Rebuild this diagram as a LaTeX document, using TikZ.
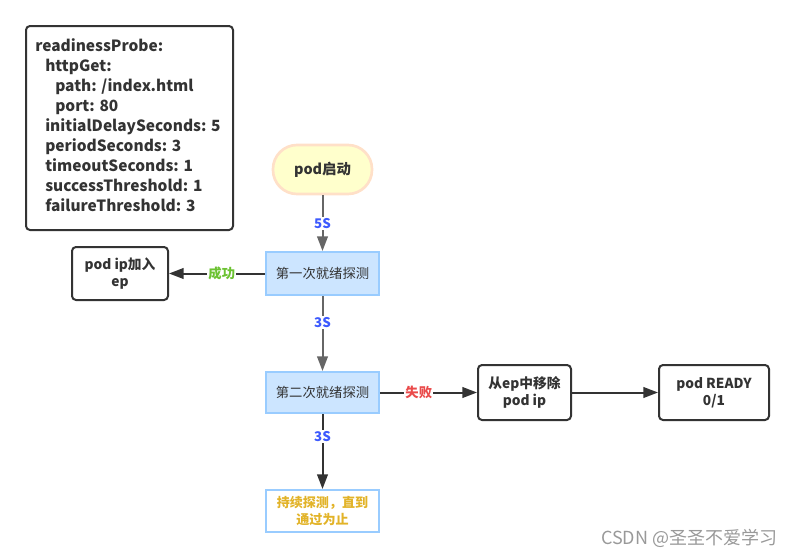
\documentclass[tikz,border=0pt]{standalone}
\usepackage{fontspec}
\setmainfont{Noto Sans CJK SC}
\usetikzlibrary{arrows.meta, calc}
\definecolor{probefill}{HTML}{CCE5FF}
\definecolor{probeline}{HTML}{99CCFF}
\definecolor{startfill}{HTML}{FFFFCC}
\definecolor{startline}{HTML}{FFE0C8}
\definecolor{darktext}{HTML}{333333}
\definecolor{waitblue}{HTML}{3D5AFE}
\definecolor{okgreen}{HTML}{6CC232}
\definecolor{failred}{HTML}{EA4A4A}
\definecolor{goldtext}{HTML}{E2B328}

\begin{document}
\begin{tikzpicture}[x=0.75pt, y=-0.75pt,
	box/.style={draw=darktext, line width=1.5pt, rounded corners=3pt, align=center,
		text=darktext, font=\bfseries\fontsize{10.3}{12.5}\selectfont},
	probe/.style={draw=probeline, fill=probefill, line width=1.5pt, align=center,
		text=darktext, font=\fontsize{10}{12}\selectfont},
	flow/.style={line width=1.5pt, -{Triangle[length=11pt, width=8pt]}},
	lbl/.style={fill=white, inner sep=1pt, font=\bfseries\fontsize{10}{11}\selectfont}]
	\useasboundingbox (0,0) rectangle (794,557);
	% yaml box
	\node [box, minimum width=207*0.75pt, minimum height=204*0.75pt, anchor=north west] (yaml) at (25,25) {};
	\node [anchor=north west, align=left, inner sep=0pt, text=darktext,
		font=\bfseries\fontsize{11.6}{15}\selectfont] (yamltext) at (35,38.5)
		{readinessProbe:\\
		\hspace*{7.5pt}httpGet:\\
		\hspace*{15pt}path: /index.html\\
		\hspace*{15pt}port: 80\\
		\hspace*{7.5pt}initialDelaySeconds: 5\\
		\hspace*{7.5pt}periodSeconds: 3\\
		\hspace*{7.5pt}timeoutSeconds: 1\\
		\hspace*{7.5pt}successThreshold: 1\\
		\hspace*{7.5pt}failureThreshold: 3};
	% flow nodes
	\node [draw=startline, fill=startfill, line width=2pt, rounded corners=18pt, text=darktext,
		minimum width=99*0.75pt, minimum height=49*0.75pt,
		font=\bfseries\fontsize{10.8}{12}\selectfont] (start) at (322.5,169.5) {pod启动};
	\node [probe, minimum width=113*0.75pt, minimum height=43*0.75pt] (first) at (322.5,273.5) {第一次就绪探测};
	\node [probe, minimum width=113*0.75pt, minimum height=41*0.75pt] (second) at (322.5,392.5) {第二次就绪探测};
	\node [draw=probeline, fill=white, line width=1.5pt, align=center, text=goldtext,
		minimum width=113*0.75pt, minimum height=42*0.75pt,
		font=\bfseries\fontsize{9.8}{12.5}\selectfont] (keep) at (322.5,511) {持续探测，直到\\通过为止};
	\node [box, minimum width=96*0.75pt, minimum height=53*0.75pt] (join) at (120,273.5) {pod ip加入\\ep};
	\node [box, minimum width=93*0.75pt, minimum height=55*0.75pt] (remove) at (524.5,392.5) {从ep中移除\\pod ip};
	\node [box, minimum width=110*0.75pt, minimum height=55*0.75pt] (ready) at (714,392.5) {pod READY\\0/1};
	% connectors
	\draw [flow, draw=black!60, fill=black!60] (start) -- (first) node [lbl, midway, text=waitblue] {5S};
	\draw [flow, draw=black!60, fill=black!60] (first) -- (second) node [lbl, pos=0.35, text=waitblue] {3S};
	\draw [flow, draw=darktext, fill=darktext] (second) -- (keep) node [lbl, pos=0.3, text=waitblue] {3S};
	\draw [flow, draw=darktext, fill=darktext] (first) -- (join) node [lbl, pos=0.45, text=okgreen] {成功};
	\draw [flow, draw=darktext, fill=darktext] (second) -- (remove) node [lbl, pos=0.4, text=failred] {失败};
	\draw [flow, draw=darktext, fill=darktext] (remove) -- (ready);
	\node [anchor=east, text=black!40, font=\fontsize{13.5}{15}\selectfont] (mark) at (782,538) {CSDN @圣圣不爱学习};
\end{tikzpicture}
\end{document}
